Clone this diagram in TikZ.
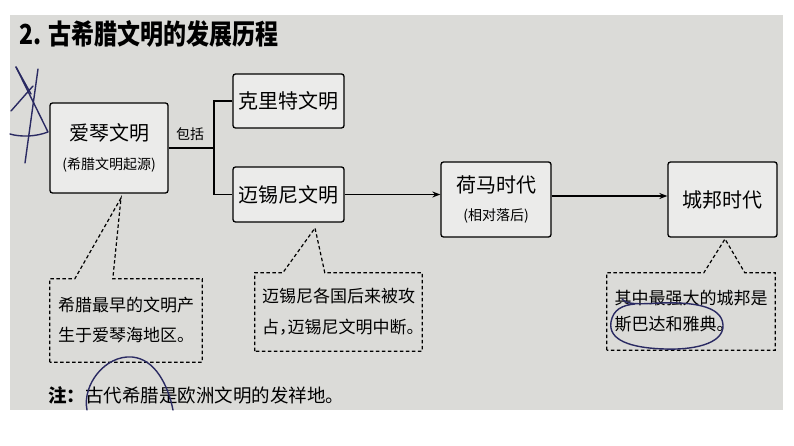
\documentclass[tikz,border=0pt]{standalone}
\usepackage{fontspec}
\setmainfont{Noto Sans CJK SC}
\usetikzlibrary{positioning, arrows.meta, calc}
\definecolor{paper}{RGB}{219,219,216}
\definecolor{ink}{RGB}{42,42,98}

\begin{document}
\begin{tikzpicture}[x=1pt, y=-1pt,
    stage/.style={draw=black, line width=1.3pt, rounded corners=2.5pt, fill=paper!55!white, align=center, inner sep=0pt,
      font=\fontsize{20}{24}\selectfont},
    sub/.style={font=\fontsize{14}{16}\selectfont},
    edge/.style={line width=1.3pt},
    arrow/.style={edge, -{Stealth[length=8pt, width=6pt]}},
    note/.style={align=left, inner sep=0pt},
    bubble/.style={line width=1.2pt, dash pattern=on 3.5pt off 2.5pt},
    pen/.style={ink, line width=1.4pt, line cap=round, line join=round}
  ]

  \useasboundingbox (0,0) rectangle (794,446);
  \fill[paper] (10,15) rectangle (783,410);

  % Titel
  \node[anchor=west, inner sep=0pt, font=\fontsize{23}{26}\selectfont\bfseries] (title) at (19,34)
    {\scalebox{1}[1.2]{2. 古希腊文明的发展历程}};

  % Knoten
  \node[stage, minimum width=118, minimum height=90] (aegean) at (109,148)
    {爱琴文明\\[5pt]{\fontsize{14}{16}\selectfont (希腊文明起源)}};
  \node[stage, minimum width=111, minimum height=54] (crete) at (288.5,101) {克里特文明};
  \node[stage, minimum width=111, minimum height=55] (myc) at (288.5,194.5) {迈锡尼文明};
  \node[stage, minimum width=110, minimum height=75] (homer) at (496,199.5)
    {荷马时代\\[4pt]{\fontsize{14}{16}\selectfont (相对落后)}};
  \node[stage, minimum width=109, minimum height=75] (polis) at (722.5,199.5) {城邦时代};

  % Kanten zwischen Knoten
  \coordinate (branch) at (214,148);
  \draw[edge] (aegean.east) -- (branch);
  \draw[edge] (crete.west) -| (branch) |- (myc.west);
  \node[sub, inner sep=0pt] (incl) at (190,134) {包括};
  \draw[arrow] (myc.east) -- (myc.east -| homer.west);
  \draw[arrow] ([yshift=-1.5pt]myc.east -| homer.east) -- ([yshift=-1.5pt]myc.east -| polis.west);

  % Hinweise
  \node[note, minimum width=152, minimum height=83, font=\fontsize{17}{30}\selectfont] (noteA) at (126,320.5)
    {希腊最早的文明产\\生于爱琴海地区。};
  \node[note, minimum width=167, minimum height=78, font=\fontsize{17}{31}\selectfont] (noteB) at (338.5,312)
    {迈锡尼各国后来被攻\\占\makebox[0.5em][l]{，}迈锡尼文明中断\makebox[0.5em][l]{。}};
  \node[note, minimum width=168, minimum height=77, font=\fontsize{17}{26}\selectfont] (noteC) at (691,311.5)
    {其中最强大的城邦是\\斯巴达和雅典。\hspace*{2em}};
  \coordinate (tipA) at (121,198);
  \coordinate (tipB) at (315,228);
  \coordinate (tipC) at (725,239);
  \draw[bubble] (noteA.south west) -- (noteA.north west) -- ([xshift=25pt]noteA.north west) -- (tipA)
    -- ([xshift=63pt]noteA.north west) -- (noteA.north east) -- (noteA.south east) -- cycle;
  \draw[bubble] (noteB.south west) -- (noteB.north west) -- ([xshift=28pt]noteB.north west) -- (tipB)
    -- ([xshift=70pt]noteB.north west) -- (noteB.north east) -- (noteB.south east) -- cycle;
  \draw[bubble] (noteC.south west) -- (noteC.north west) -- ([xshift=97pt]noteC.north west) -- (tipC)
    -- ([xshift=138pt]noteC.north west) -- (noteC.north east) -- (noteC.south east) -- cycle;

  \node[anchor=west, inner sep=0pt, font=\fontsize{18.5}{22}\selectfont] (remark) at (48,395)
    {\textbf{注：}古代希腊是欧洲文明的发祥地。};

  % Stiftspuren
  \draw[pen] (16,67) -- (48,132) .. controls (35,137) and (20,137) .. (10,134);
  \draw[pen] (38,69) -- (25,163);
  \draw[pen] (16,67) -- (31,94);
  \draw[pen] (11,111) -- (33,86);
  \draw[pen] (87,410) .. controls (82,385) and (105,355) .. (132,357) .. controls (155,359) and (168,385) .. (173,410);
  \draw[pen] (622,299) .. controls (627,305) and (640,304) .. (660,303) .. controls (690,302) and (722,305) .. (723,325)
    .. controls (724,345) and (690,350) .. (665,349) .. controls (630,348) and (608,340) .. (611,322)
    .. controls (613,310) and (622,305) .. (635,304);
\end{tikzpicture}
\end{document}
